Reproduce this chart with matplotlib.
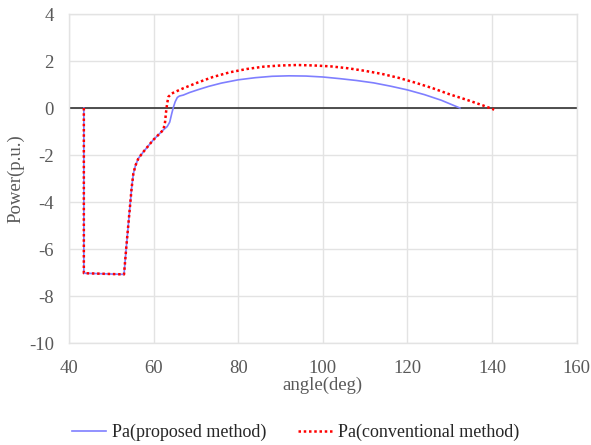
import matplotlib
matplotlib.use("Agg")
import matplotlib.pyplot as plt

# Data
angle_proposed = [43.5, 43.5, 53.0, 53.5, 54.0, 54.4, 54.8, 55.2, 55.7, 56.4, 57.6, 59.9,
                  62.3, 63.2, 63.8, 64.3, 64.7, 65.1, 65.6, 66.1, 67.0, 68.5, 70.5, 73.0,
                  76, 80, 84, 88, 92, 96, 100, 104, 108, 112, 116, 120, 124, 128, 132.4]
pa_proposed = [0, -7.03, -7.08, -6.0, -5.0, -4.2, -3.4, -2.8, -2.45, -2.14, -1.86, -1.36,
               -0.93, -0.79, -0.6, -0.22, 0.05, 0.27, 0.45, 0.51, 0.55, 0.66, 0.78, 0.92,
               1.06, 1.2, 1.29, 1.35, 1.37, 1.36, 1.32, 1.25, 1.17, 1.07, 0.93, 0.77, 0.57, 0.33, 0.0]

angle_conventional = [43.5, 43.5, 53.0, 53.5, 54.0, 54.4, 54.8, 55.2, 55.7, 56.4, 57.6, 59.9,
                      62.3, 62.7, 62.9, 63.2, 63.5, 64.3, 65.5, 67.0, 70.5, 74, 78, 82, 86,
                      90, 94, 98, 102, 106, 110, 114, 118, 122, 126, 130, 134, 138, 140.5]
pa_conventional = [0, -7.03, -7.08, -6.0, -5.0, -4.2, -3.4, -2.8, -2.45, -2.14, -1.86, -1.36,
                   -0.93, -0.6, -0.22, 0.2, 0.48, 0.62, 0.72, 0.84, 1.09, 1.32, 1.52, 1.66, 1.76,
                   1.81, 1.83, 1.81, 1.77, 1.69, 1.58, 1.45, 1.28, 1.07, 0.84, 0.58, 0.35, 0.1, -0.07]

x_ticks = [40, 60, 80, 100, 120, 140, 160]
y_ticks = [-10, -8, -6, -4, -2, 0, 2, 4]

plt.rcParams['font.family'] = ['Liberation Serif', 'DejaVu Serif']
plt.rcParams['axes.unicode_minus'] = False

fig = plt.figure(figsize=(5.91, 4.45), dpi=100)
ax = fig.add_axes([0.1168, 0.2292, 0.9758 - 0.1168, 0.9685 - 0.2292])

grid_c = '#E3E3E3'
text_c = '#595959'

ax.set_xlim(40, 160)
ax.set_ylim(-10, 4)
ax.set_xticks(x_ticks)
ax.set_yticks(y_ticks)
ax.grid(True, color=grid_c, linewidth=1.0)
ax.set_axisbelow(True)
for s in ax.spines.values():
    s.set_color(grid_c)
    s.set_linewidth(1.0)
ax.tick_params(length=0, labelsize=13.5, colors=text_c)
ax.tick_params(axis='x', pad=12)
ax.tick_params(axis='y', pad=11)

ax.axhline(0, color='#404040', linewidth=1.3, zorder=2)

ax.plot(angle_proposed, pa_proposed, color='#7F7FFF', linewidth=1.2,
        label='Pa(proposed method)', zorder=3)
ax.plot(angle_conventional, pa_conventional, color='#FF0000', linewidth=1.8,
        linestyle=(0, (1, 1.1)), label='Pa(conventional method)', zorder=4)

ax.set_xlabel('angle(deg)', fontsize=13.5, color=text_c, labelpad=0)
ax.set_ylabel('Power(p.u.)', fontsize=13.5, color=text_c, labelpad=3)

fig.legend(loc='lower center', ncol=2, frameon=False, fontsize=13,
           bbox_to_anchor=(0.5, -0.028), handlelength=1.9, columnspacing=1.75,
           handletextpad=0.3, labelcolor='#262626')

fig.savefig('out.png', dpi=100)
